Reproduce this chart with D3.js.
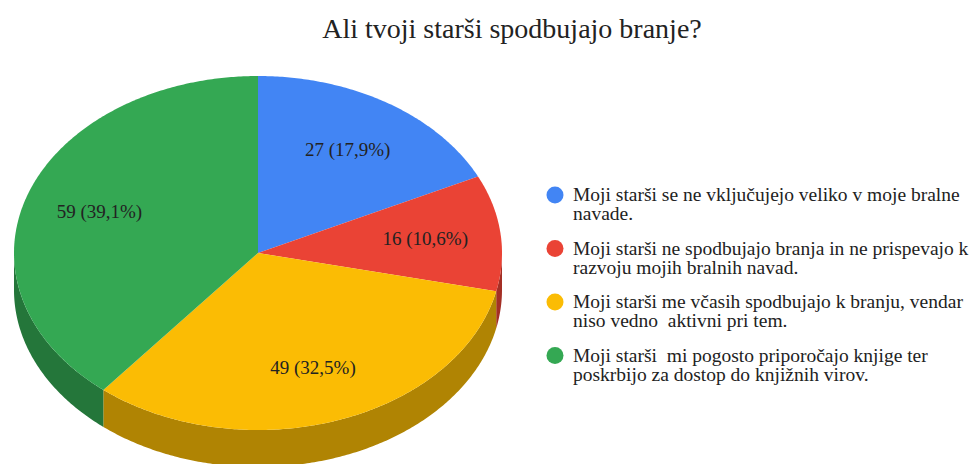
<!DOCTYPE html>
<html>
<head>
<meta charset="utf-8">
<script src="https://cdn.jsdelivr.net/npm/d3@7"></script>
<style>
  body { margin: 0; background: #fff; }
</style>
</head>
<body>
<svg id="chart" width="977" height="464"></svg>
<script>
var title = "Ali tvoji starši spodbujajo branje?";
var values = [27, 16, 49, 59];
var shares = ["17,9%", "10,6%", "32,5%", "39,1%"];
var colors = ["#4285f4", "#ea4335", "#fbbc04", "#34a853"];
var legendLines = [
  ["Moji starši se ne vključujejo veliko v moje bralne", "navade."],
  ["Moji starši ne spodbujajo branja in ne prispevajo k", "razvoju mojih bralnih navad."],
  ["Moji starši me včasih spodbujajo k branju, vendar", "niso vedno  aktivni pri tem."],
  ["Moji starši  mi pogosto priporočajo knjige ter", "poskrbijo za dostop do knjižnih virov."]
];

var svg = d3.select("#chart");
var font = "Liberation Serif";

var cx = 258, cy = 253, rx = 244, ry = 177, depth = 37;

svg.append("text")
  .attr("x", 512).attr("y", 38)
  .attr("text-anchor", "middle")
  .attr("font-family", font)
  .attr("font-size", 28)
  .attr("fill", "#222")
  .text(title);

var pie = d3.pie().sort(null).startAngle(0).endAngle(2 * Math.PI);
var arcs = pie(values);

// angle measured clockwise from 12 o'clock
function pt(a, k, dy) {
  return [cx + rx * k * Math.sin(a), cy - ry * k * Math.cos(a) + (dy || 0)];
}

function arcPoints(a0, a1, dy) {
  var n = Math.max(2, Math.ceil((a1 - a0) / 0.01));
  return d3.range(n + 1).map(function(i) {
    return pt(a0 + (a1 - a0) * i / n, 1, dy);
  });
}

var line = d3.line();

// side walls (front half only)
var walls = svg.append("g");
arcs.forEach(function(d, i) {
  var a0 = Math.max(d.startAngle, Math.PI / 2);
  var a1 = Math.min(d.endAngle, 3 * Math.PI / 2);
  if (a1 <= a0) return;
  var top = arcPoints(a0, a1, 0);
  var bottom = arcPoints(a0, a1, depth).reverse();
  walls.append("path")
    .attr("d", line(top.concat(bottom)) + "Z")
    .attr("fill", d3.color(colors[i]).darker(1.0));
});

// top faces
var faces = svg.append("g");
arcs.forEach(function(d, i) {
  var pts = [[cx, cy]].concat(arcPoints(d.startAngle, d.endAngle, 0));
  faces.append("path")
    .attr("d", line(pts) + "Z")
    .attr("fill", colors[i]);
});

// slice labels
svg.append("g").selectAll("text")
  .data(arcs)
  .join("text")
  .attr("x", function(d) { return pt((d.startAngle + d.endAngle) / 2, 0.69)[0]; })
  .attr("y", function(d) { return pt((d.startAngle + d.endAngle) / 2, 0.69)[1] + 6; })
  .attr("text-anchor", "middle")
  .attr("font-family", font)
  .attr("font-size", 19)
  .attr("fill", "#222")
  .text(function(d, i) { return d.value + " (" + shares[i] + ")"; });

// legend
var legend = svg.append("g");
legendLines.forEach(function(lines, i) {
  var y = 195 + i * 53.5;
  legend.append("circle")
    .attr("cx", 555).attr("cy", y).attr("r", 8.5)
    .attr("fill", colors[i]);
  lines.forEach(function(t, j) {
    legend.append("text")
      .attr("x", 573).attr("y", y + 6 + j * 19)
      .attr("font-family", font)
      .attr("font-size", 19.5)
      .attr("fill", "#222")
      .style("white-space", "pre")
      .text(t);
  });
});
</script>
</body>
</html>
